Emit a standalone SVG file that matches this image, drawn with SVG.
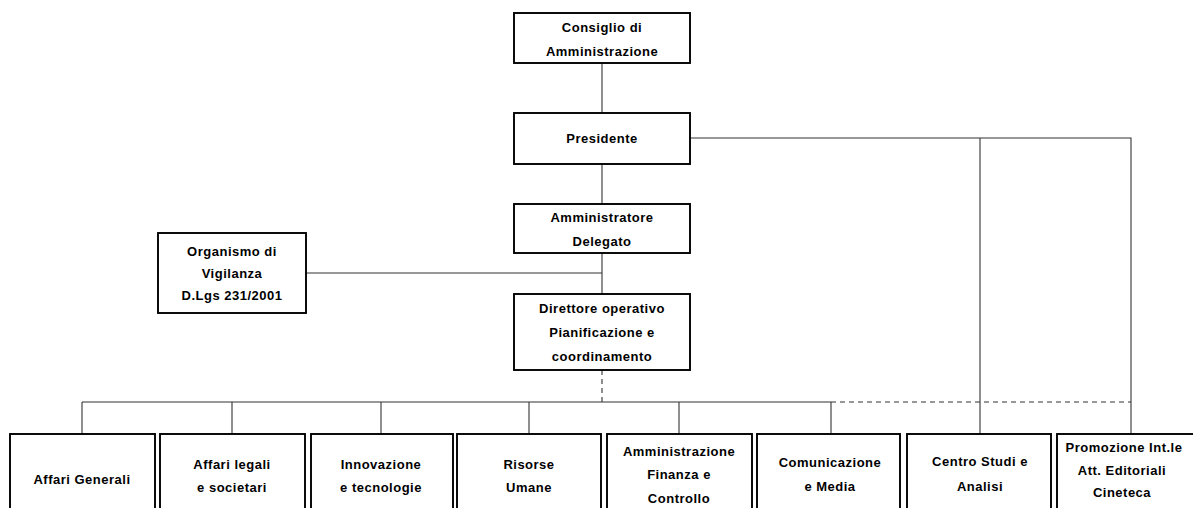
<svg xmlns="http://www.w3.org/2000/svg" width="1193" height="508" viewBox="0 0 1193 508">
<style>
.box{fill:#fff;stroke:#000;stroke-width:1.9}
.ln{fill:none;stroke:#333;stroke-width:1.1}
.dash{fill:none;stroke:#333;stroke-width:1.1;stroke-dasharray:5 4}
text{font-family:"Liberation Sans",Arial,sans-serif;font-weight:bold;font-size:13px;letter-spacing:0.5px;text-anchor:middle;fill:#000}
</style>
<rect width="1193" height="508" fill="#fff"/>
<g id="connectors">
<line class="ln" x1="602" y1="63" x2="602" y2="113"/>
<line class="ln" x1="602" y1="164" x2="602" y2="204"/>
<line class="ln" x1="602" y1="253" x2="602" y2="294"/>
<line class="ln" x1="306" y1="273" x2="602" y2="273"/>
<line class="dash" x1="602" y1="370" x2="602" y2="402"/>
<polyline class="ln" points="690,138 1131,138 1131,434"/>
<line class="ln" x1="980" y1="138" x2="980" y2="434"/>
<line class="ln" x1="82" y1="402" x2="831" y2="402"/>
<line class="dash" x1="831" y1="402" x2="1131" y2="402"/>
<line class="ln" x1="82" y1="402" x2="82" y2="434"/>
<line class="ln" x1="232" y1="402" x2="232" y2="434"/>
<line class="ln" x1="381" y1="402" x2="381" y2="434"/>
<line class="ln" x1="529" y1="402" x2="529" y2="434"/>
<line class="ln" x1="679" y1="402" x2="679" y2="434"/>
<line class="ln" x1="831" y1="402" x2="831" y2="434"/>
</g>
<g id="consiglio">
<rect class="box" x="514" y="13" width="176" height="50"/>
<text x="602" y="32">Consiglio di</text>
<text x="602" y="56">Amministrazione</text>
</g>
<g id="presidente">
<rect class="box" x="514" y="113" width="176" height="51"/>
<text x="602" y="143">Presidente</text>
</g>
<g id="amministratore">
<rect class="box" x="514" y="204" width="176" height="49"/>
<text x="602" y="222">Amministratore</text>
<text x="602" y="246">Delegato</text>
</g>
<g id="organismo">
<rect class="box" x="158" y="233" width="148" height="80"/>
<text x="232" y="256">Organismo di</text>
<text x="232" y="278">Vigilanza</text>
<text x="232" y="300">D.Lgs 231/2001</text>
</g>
<g id="direttore">
<rect class="box" x="514" y="294" width="176" height="76"/>
<text x="602" y="313">Direttore operativo</text>
<text x="602" y="337">Pianificazione e</text>
<text x="602" y="361">coordinamento</text>
</g>
<g id="affari-generali">
<rect class="box" x="10" y="434" width="145" height="80"/>
<text x="82" y="484">Affari Generali</text>
</g>
<g id="affari-legali">
<rect class="box" x="160" y="434" width="145" height="80"/>
<text x="232" y="469">Affari legali</text>
<text x="232" y="492">e societari</text>
</g>
<g id="innovazione">
<rect class="box" x="311" y="434" width="142" height="80"/>
<text x="381" y="469">Innovazione</text>
<text x="381" y="492">e tecnologie</text>
</g>
<g id="risorse">
<rect class="box" x="457" y="434" width="144" height="80"/>
<text x="529" y="469">Risorse</text>
<text x="529" y="492">Umane</text>
</g>
<g id="amministrazione">
<rect class="box" x="607" y="434" width="145" height="80"/>
<text x="679" y="456">Amministrazione</text>
<text x="679" y="479">Finanza e</text>
<text x="679" y="503">Controllo</text>
</g>
<g id="comunicazione">
<rect class="box" x="757" y="434" width="143" height="80"/>
<text x="830" y="467">Comunicazione</text>
<text x="830" y="491">e Media</text>
</g>
<g id="centro-studi">
<rect class="box" x="907" y="434" width="144" height="80"/>
<text x="980" y="466">Centro Studi e</text>
<text x="980" y="491">Analisi</text>
</g>
<g id="promozione">
<rect class="box" x="1057" y="434" width="145" height="80"/>
<text x="1124" y="452">Promozione Int.le</text>
<text x="1122" y="475">Att. Editoriali</text>
<text x="1122" y="497">Cineteca</text>
</g>
</svg>
